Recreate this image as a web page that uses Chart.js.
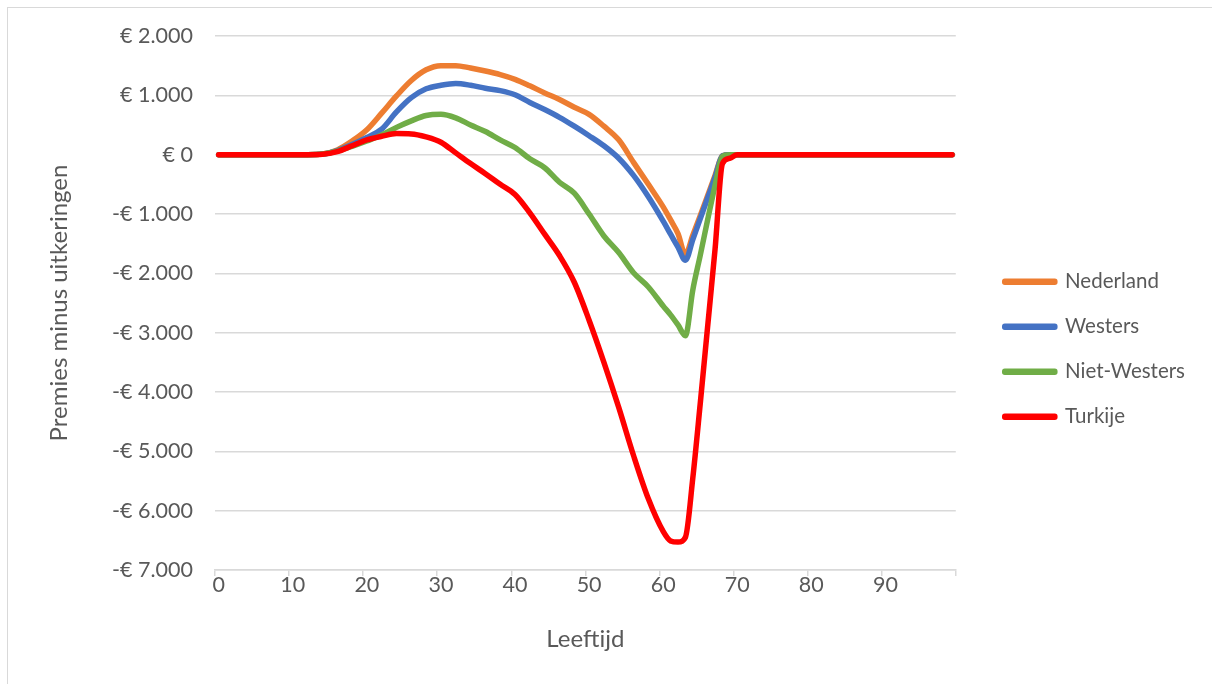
<!DOCTYPE html>
<html>
<head>
<meta charset="utf-8">
<script src="https://cdn.jsdelivr.net/npm/chart.js@4/dist/chart.umd.min.js"></script>
<style>
    body { margin: 0; background: #fff; }
    #wrap { position: relative; width: 1212px; height: 684px; overflow: hidden; }
    #frame { position: absolute; left: 7px; top: 7px; width: 1240px; height: 700px; border: 1px solid #d9d9d9; pointer-events: none; }
    canvas { position: absolute; left: 0; top: 0; }
</style>
</head>
<body>
<div id="wrap">
    <canvas id="myChart" width="1212" height="684"></canvas>
    <div id="frame"></div>
</div>
<script>
// leeftijden (categorie-as 0..99)
const xLabels = Array.from({ length: 100 }, (_, i) => i);
const xTickLabels = [0, 10, 20, 30, 40, 50, 60, 70, 80, 90];
const yTickValues = [2000, 1000, 0, -1000, -2000, -3000, -4000, -5000, -6000, -7000];

const ages = [0, 10, 12, 14, 16, 18, 20, 22, 24, 26, 28, 30, 32, 34, 36, 38, 40, 42, 44, 46, 48, 50,
    52, 54, 56, 58, 60, 61, 62, 63, 64, 65, 66, 67, 68, 69, 70, 80, 99];

const nederland = [0, 0, 0, 10, 80, 230, 420, 700, 990, 1250, 1430, 1500, 1500, 1460, 1410, 1350, 1270, 1160, 1040, 930, 800, 680,
    480, 250, -130, -500, -880, -1100, -1330, -1680, -1360, -1030, -690, -350, -20, 0, 0, 0, 0];
const westers = [0, 0, 0, 10, 70, 170, 290, 430, 720, 960, 1110, 1170, 1200, 1170, 1120, 1080, 1010, 880, 760, 630, 480, 320,
    150, -60, -350, -710, -1120, -1340, -1560, -1780, -1430, -1080, -730, -380, -20, 0, 0, 0, 0];
const nietWesters = [0, 0, 0, 10, 60, 140, 230, 330, 460, 570, 660, 680, 620, 500, 390, 250, 120, -70, -220, -465, -650, -1000,
    -1370, -1650, -1990, -2230, -2550, -2700, -2870, -3050, -2280, -1700, -1100, -520, -30, 0, 0, 0, 0];
const turkije = [0, 0, 0, 5, 50, 150, 250, 310, 355, 350, 300, 210, 30, -150, -320, -500, -670, -980, -1340, -1700, -2150, -2790,
    -3500, -4260, -5070, -5800, -6350, -6510, -6530, -6450, -5450, -4200, -2900, -1600, -150, -60, 0, 0, 0];

const seriesNames = ['Nederland', 'Westers', 'Niet-Westers', 'Turkije'];
const seriesColors = ['#ED7D31', '#4472C4', '#70AD47', '#FF0000'];
const seriesValues = [nederland, westers, nietWesters, turkije];

const textColor = '#595959';
const gridColor = '#d9d9d9';

function fmtEuro(v) {
    if (v === 0) return '€ 0';
    const s = Math.abs(v).toString().replace(/\B(?=(\d{3})+(?!\d))/g, '.');
    return (v < 0 ? '-' : '') + '€ ' + s;
}

function buildChart() {
    const ctx = document.getElementById('myChart');

    const datasets = seriesNames.map((name, k) => ({
        label: name,
        data: ages.map((a, i) => ({ x: a, y: seriesValues[k][i] })),
        borderColor: seriesColors[k],
        backgroundColor: seriesColors[k],
        borderWidth: 5.5,
        borderCapStyle: 'round',
        borderJoinStyle: 'round',
        pointRadius: 0,
        cubicInterpolationMode: 'monotone',
        order: seriesNames.length - 1 - k // laatste serie bovenop
    }));

    const defaultLabels = Chart.defaults.plugins.legend.labels.generateLabels;

    new Chart(ctx, {
        type: 'line',
        data: { labels: xLabels, datasets: datasets },
        options: {
            responsive: false,
            animation: false,
            layout: { padding: { left: 0, top: 36, right: 17, bottom: 25 } },
            plugins: {
                legend: {
                    position: 'right',
                    align: 'center',
                    title: { display: true, text: '', font: { size: 10, lineHeight: '24px' }, padding: 0 },
                    labels: {
                        boxWidth: 50,
                        boxHeight: 1,
                        padding: 4,
                        color: textColor,
                        // tekst als array -> regelhoogte bepaalt de rijafstand
                        font: { family: 'Lato', size: 20.5, lineHeight: '41px' },
                        generateLabels: chart => defaultLabels(chart).map(l => ({ ...l, text: [l.text] })),
                        sort: (a, b) => a.datasetIndex - b.datasetIndex
                    }
                },
                tooltip: { enabled: false }
            },
            scales: {
                x: {
                    type: 'category',
                    offset: true,
                    grid: {
                        offset: true,
                        drawOnChartArea: false,
                        drawTicks: true,
                        tickLength: 6,
                        lineWidth: 1.5,
                        color: c => (c.index === undefined || c.index % 10 === 0) ? gridColor : 'rgba(0,0,0,0)'
                    },
                    border: { color: gridColor, width: 1.5 },
                    ticks: {
                        autoSkip: false,
                        maxRotation: 0,
                        padding: -4,
                        color: textColor,
                        font: { family: 'Lato', size: 21.5 },
                        callback: (v, i) => xTickLabels.includes(xLabels[i]) ? String(xLabels[i]) : ''
                    },
                    title: {
                        display: true,
                        text: 'Leeftijd',
                        color: textColor,
                        font: { family: 'Lato', size: 24 },
                        padding: { top: 0, bottom: 5 }
                    },
                    afterFit: s => { s.height = 684 - 25 - 570; }
                },
                y: {
                    min: -7000,
                    max: 2000,
                    afterBuildTicks: s => { s.ticks = yTickValues.map(v => ({ value: v })); },
                    grid: { color: gridColor, lineWidth: 1.5, drawTicks: false },
                    border: { display: false },
                    ticks: {
                        padding: 22,
                        color: textColor,
                        font: { family: 'Lato', size: 21.5 },
                        callback: v => fmtEuro(v)
                    },
                    title: {
                        display: true,
                        text: 'Premies minus uitkeringen',
                        color: textColor,
                        font: { family: 'Lato', size: 24 },
                        padding: { top: 45, bottom: 0 }
                    },
                    afterFit: s => { s.width = 215; }
                },
                gap: {
                    type: 'linear',
                    position: 'right',
                    grid: { display: false },
                    border: { display: false },
                    ticks: { display: false },
                    afterFit: s => { s.width = 45; }
                }
            }
        }
    });
}

document.fonts.load('21px Lato').then(buildChart, buildChart);
</script>
</body>
</html>
